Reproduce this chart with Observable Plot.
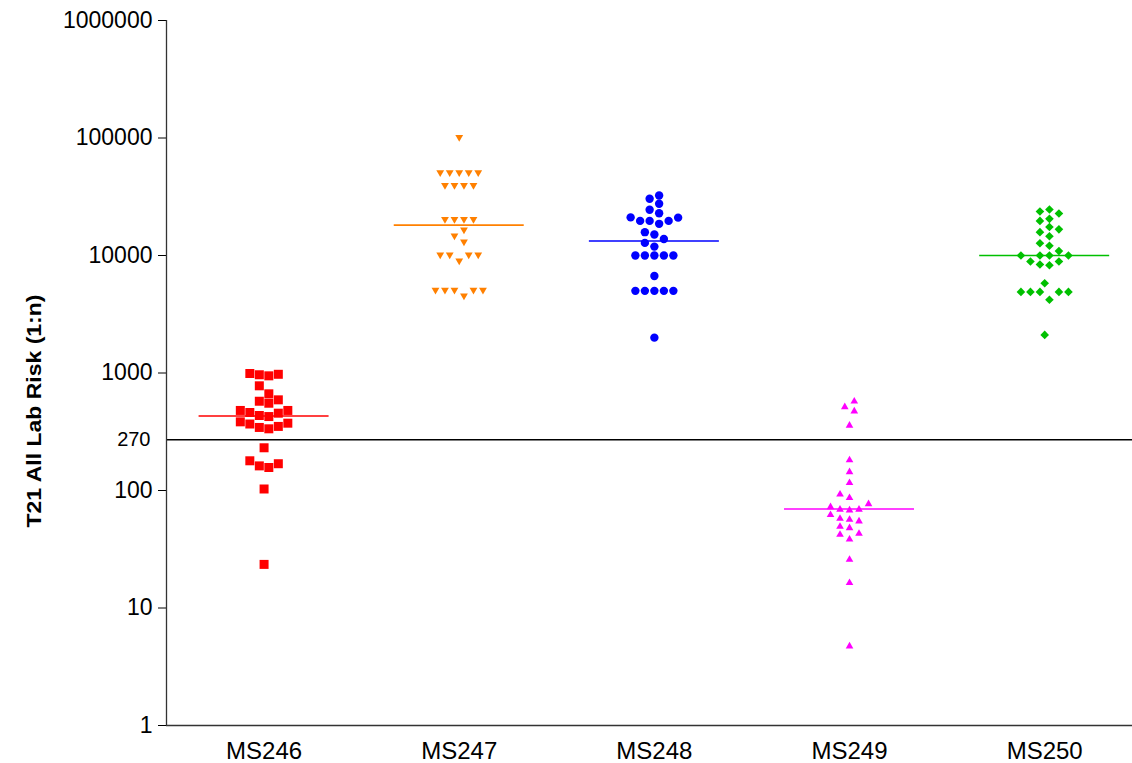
<!DOCTYPE html>
<html>
<head>
<meta charset="utf-8">
<script src="https://cdn.jsdelivr.net/npm/d3@7"></script>
<script src="https://cdn.jsdelivr.net/npm/@observablehq/plot@0.6"></script>
<style>
  html, body { margin: 0; padding: 0; background: #fff; }
</style>
</head>
<body>
<div id="chart"></div>
<script>
// ---------- data ----------
const groups = ["MS246", "MS247", "MS248", "MS249", "MS250"];
const ms246 = [990, 975, 966, 946, 778, 665, 591, 575, 553, 480, 480, 461, 455, 435, 426,
               384, 374, 368, 351, 344, 335, 231, 179, 169, 162, 157, 103, 23.5];
const ms247 = [100000, 50000, 50000, 50000, 50000, 50000, 39000, 39000, 39000, 39000,
               20000, 20000, 20000, 20000, 16300, 14500, 12900, 10000, 10000, 10000, 10000,
               8900, 5000, 5000, 5000, 5000, 5000, 4480];
const ms248 = [32400, 30400, 27600, 24500, 22900, 21100, 21000, 19700, 19700, 19700, 18600,
               15800, 15100, 13800, 12800, 11900, 10000, 10000, 10000, 10000, 10000, 6700,
               5000, 5000, 5000, 5000, 5000, 2000];
const ms249 = [583, 522, 480, 363, 184, 146, 118, 94, 88, 78, 73.5, 70, 70, 69, 63, 58.6,
               57.4, 55.6, 50, 48.7, 43.6, 42.8, 39, 26.2, 16.6, 4.8];
const ms250 = [24600, 23700, 22800, 20500, 19700, 17500, 16700, 15800, 14600, 12700, 12100,
               10900, 10000, 10000, 10000, 10000, 8900, 8900, 8380, 8260, 5810,
               4900, 4900, 4900, 4900, 4900, 4200, 2110];
const seriesValues = [ms246, ms247, ms248, ms249, ms250];
const colors = ["#ff0000", "#ff8000", "#0000ff", "#ff00ff", "#00c000"];
const yTicks = [1, 10, 100, 1000, 10000, 100000, 1000000];
const cutoff = 270;
const yTitle = "T21 All Lab Risk (1:n)";

// ---------- layout ----------
const W = 1132, H = 763;
const mL = 166, mR = 0, mT = 20, mB = 38;
const xDomain = [-0.5, 4.45];
const yDomain = [1, 1000000];
const pxPerX = (W - mL - mR) / (xDomain[1] - xDomain[0]);
const pxPerDecade = (H - mT - mB) / Math.log10(yDomain[1] / yDomain[0]);

// ---------- symbols ----------
const rad = size => Math.sqrt(size / Math.PI);
const square = {draw(c, s) { const r = rad(s); c.rect(-r, -r, 2 * r, 2 * r); }};
const triDown = {draw(c, s) { const r = rad(s); c.moveTo(-r, -0.78 * r); c.lineTo(r, -0.78 * r); c.lineTo(0, 0.95 * r); c.closePath(); }};
const triUp = {draw(c, s) { const r = rad(s); c.moveTo(-r, 0.78 * r); c.lineTo(r, 0.78 * r); c.lineTo(0, -0.95 * r); c.closePath(); }};
const diamond = {draw(c, s) { const r = rad(s); c.moveTo(0, -r); c.lineTo(r, 0); c.lineTo(0, r); c.lineTo(-r, 0); c.closePath(); }};
const symbols = [square, triDown, "circle", triUp, diamond];
const radii = [4.5, 3.9, 4.2, 3.8, 4.3];
const rowH = [9, 7, 8, 7, 8]; // vertical collision distance (px) per group
const slotPx = 9.5;

// column-scatter layout (Prism-like): place points bottom-up in horizontal slots
function swarm(values, gi) {
  const h = rowH[gi];
  const pts = values.map(v => ({group: groups[gi], gi, value: v, py: Math.log10(v) * pxPerDecade}))
    .sort((a, b) => a.value - b.value);
  const placed = [];
  for (const p of pts) {
    for (let k = 0; ; k++) {
      const s = k === 0 ? 0 : (k % 2 ? -Math.ceil(k / 2) : k / 2);
      if (!placed.some(q => q.slot === s && Math.abs(q.py - p.py) < h)) { p.slot = s; break; }
    }
    placed.push(p);
  }
  const comps = [];
  let comp = [];
  for (const p of pts) {
    if (comp.length && p.py - comp[comp.length - 1].py >= h) { comps.push(comp); comp = []; }
    comp.push(p);
  }
  comps.push(comp);
  for (const c of comps) {
    const sh = -(d3.min(c, d => d.slot) + d3.max(c, d => d.slot)) / 2;
    c.forEach(d => d.slot += sh);
  }
  pts.forEach(d => d.x = gi + d.slot * slotPx / pxPerX);
  return pts;
}

const table = seriesValues.map((vals, gi) => swarm(vals, gi));
const medians = seriesValues.map((vals, gi) => ({gi, median: d3.median(vals), x1: gi - 65 / pxPerX, x2: gi + 65 / pxPerX}));

const marks = [
  Plot.ruleY([cutoff], {stroke: "#000", strokeWidth: 1.6}),
  Plot.ruleX([xDomain[0]], {y1: yDomain[0], y2: yDomain[1], stroke: "#333", strokeWidth: 1.3}),
  Plot.ruleY([yDomain[0]], {stroke: "#333", strokeWidth: 1.3}),
  Plot.text([String(cutoff)], {frameAnchor: "left", y: () => cutoff, dx: -16, textAnchor: "end", fontSize: 20, fill: "#000"}),
  Plot.text([yTitle], {frameAnchor: "left", textAnchor: "middle", rotate: -90, dx: -132, dy: 38, fontSize: 23, fontWeight: "bold", fill: "#000"})
];
table.forEach((pts, gi) => {
  marks.push(Plot.dot(pts, {x: "x", y: "value", symbol: symbols[gi], r: radii[gi], fill: colors[gi], stroke: "none"}));
});
medians.forEach((m, gi) => {
  marks.push(Plot.ruleY([m], {y: "median", x1: "x1", x2: "x2", stroke: colors[gi], strokeWidth: 1.6}));
});

const chart = Plot.plot({
  width: W,
  height: H,
  marginLeft: mL,
  marginRight: mR,
  marginTop: mT,
  marginBottom: mB,
  style: {fontFamily: "'Liberation Sans', Arial, sans-serif", fontSize: "22px", color: "#000", background: "#fff"},
  x: {domain: xDomain, ticks: [0, 1, 2, 3, 4], tickFormat: i => groups[i], tickSize: 0, tickPadding: 16, label: null},
  y: {type: "log", domain: yDomain, ticks: yTicks, tickFormat: d => String(d), tickSize: 8, tickPadding: 6, label: null},
  marks
});
// axis label sizes
d3.select(chart).selectAll('[aria-label^="x-axis"] text').style("font-size", "24px");
d3.select(chart).selectAll('[aria-label^="y-axis"] text').style("font-size", "23px");
// slightly condensed bold title (as in the reference)
d3.select(chart).selectAll("text").filter(function() { return this.textContent === yTitle; })
  .each(function() { const t = this.getAttribute("transform") || ""; this.setAttribute("transform", t + " scale(1,0.9)"); });
document.getElementById("chart").appendChild(chart);
</script>
</body>
</html>
